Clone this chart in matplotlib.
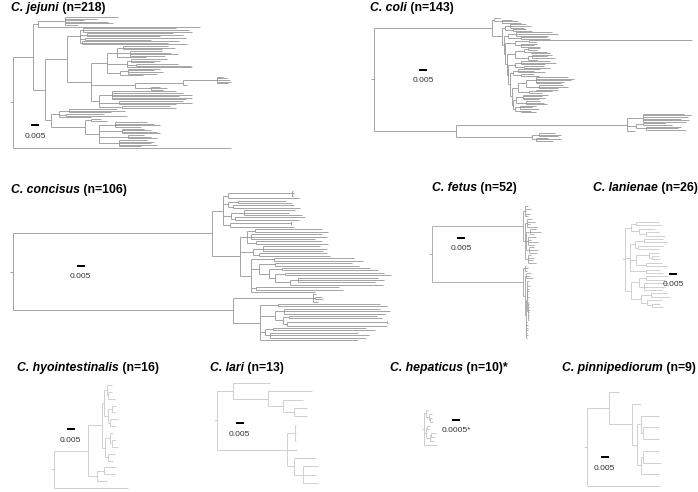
import matplotlib
matplotlib.use("Agg")
import matplotlib.pyplot as plt
from matplotlib.collections import LineCollection
from matplotlib.patches import Rectangle

plt.rcParams['font.family'] = ['Liberation Sans', 'DejaVu Sans']

# trees in newick form, branch lengths in units of 0.001 substitutions/site
JEJUNI = (
    "((((:33,:20,:12,:27,:30,:8):17,:101.5):3,"
    "((((:58,:66,:68):2,(:54,:60,:46):4,(:63,:41):3,(:61,:54,:66):1):8,"
    "((((:28,:32,:24):4,(:20,:26,:30,:22):8,:18):6,"
    "((:22,:18,:14):3,(:26,:34):6,:41):12,"
    "((:20,:16,:22,:18):5,:14):8):10,"
    "(((:4,:6,:8,:9,:7):21.5,:3):30,(:6,:10,:8):10):27,"
    "((:40,:44,:50,:42,:50,:46):8,(:40,:46,:36):12,(:30,:34):14):5):15):14,"
    "(((:30,:35,:26):6,(:24,:38):4,:20):5,"
    "((:6,:10):4,((:20,:24,:28,:16):10,(:14,:18,:22,:24):14,"
    "(:10,:14,:18):18,(:18,:22,:20,:24,:14):12):9):21):4):7.5):12.5,"
    ":136):2"
)
COLI = (
    "(((:4,(:6,:10,:12):5):1,"
    "(((:10,:13,:9):3,(:8,:12):5):2,"
    "(((:22,:26,:20):5,(:16,:18):8):3,"
    "(((:102,:4):9,(:10,:8,:12):4):6,"
    "((((:8,:6):2,(:10,:12):4):6,((:12,:9,:14):3,:6):8):5,"
    "(((:18,:22,:15):4,(:12,:16):6):4,"
    "(((:14,:10,:17):3,(:8,:11):5):2,"
    "((((:20,:24,:22,:18,:16):6,(:15,:18,:12):8):5,((:14,:10):4,:8):7):4,"
    "(((:16,:12,:14,:10):4,(:9,:11,:13):6):2,"
    "((:10,:8,:12):3,(:6,:9):4):1):1):1):1):1):1):1):1):6):74,"
    "(((:26,:30,:28,:24,:29,:27):10,((:14,:18):4,(:22,:20,:25):6):6,:5):107,"
    "((:10,:14,:12):4,(:8,:16,:11):2):48):51):2"
)
CONCISUS = (
    "(((((:0.5,:1,:0.8):40,:44):3,((:30,:34):6,(:38,:42):3):3,"
    "((:32,:28,:36):8,(:44,:40):2):5,((:1,:0.5):38,:40):4):7,"
    "(((:42,:46):5,(:44,:47,:40):3,(:41,:45):6):4,"
    "((:36,:40,:38):6,(:42,:44):4):8,"
    "((:50,:56):14,((:48,:52):10,((:55,:60):8,((:62,:66):6,"
    "((:50,:54,:48):5,:58):9):4):6):5,(:52,:54):3,:40):7):17.5):124.5,"
    "((:2,(:4,:5):1.5,:3):50,"
    "((:64,:68):11,((:60,:66,:63):6,((:55,:58):4,((:0.5,:0.8):62,:62):3):5):9,"
    "((:58,:64):5,(:55,:62,:60):3):3,:61):17):137.5):2"
)
FETUS = (
    "(((:2,:4,:1,:3,:2):1,((:3,:5,:2,:6):1.5,((:4,:7,:3):2,(:5,:2,:6,:4):1,"
    "(:3,:6,:5):1.5):1,(:2,:4,:3,:5):2):1):57,"
    "((:1,:2,:1.5):1,((:3,:2,:4):1,(((:1,:0.5,:1.5,:0.8,:1,:0.6,:1.2,:0.7):0.5,"
    "(:0.4,:0.9,:0.6,:1.1,:0.5,:0.8,:0.7,:0.6):0.8):0.5,"
    "(:0.5,:1,:0.7,:0.9,:0.6,:0.8,:0.5):0.4):0.6):1):57):2"
)
LANIENAE = (
    "(((:14,:16):3,(:10,(:8,:12):4):5):4,"
    "(((:12,:14):6,(:16,:13):2):3,((:6,(:4,:5):2):8,(:10,:13):6):4,(:9,:11):10):3,"
    "(((:14,:12):4,(:15,:13,:11):3):5,((:10,:12):6,(:9,(:5,:7):3):4):6):4):2"
)
HYOINTESTINALIS = (
    "(((((:3,(:2,:4):1):2,((:3,:2):2,(:5,:4):1):3):1,"
    "((:2,(:3,:4):1):3,(:4,:3):2):2):9,((:8,:7):4,:6):6):21,:46):2"
)
LARI = (
    "((:23,(:27.5,(:13,(:8,:8):7):9):22):10,"
    "((:0.6,:0.4,:0.5):5,:6,(:14,(:9,:8,:9):6):4):44):2"
)
HEPATICUS = (
    "((:0.15,(:0.2,(:0.1,:0.15):0.1):0.2):0.1,"
    "((:0.2,:0.1):0.05,((:0.3,:0.25):0.1,:0.3):0.2):0.15,:0.8):0.1"
)
PINNIPEDIORUM = "((:6,(:6,((:11,(:10,:10):1):3,((:10,:11):1,:11):3):3):14):14,:45.6):2"

SPECIES = ["C. jejuni", "C. coli", "C. concisus", "C. fetus", "C. lanienae",
           "C. hyointestinalis", "C. lari", "C. hepaticus", "C. pinnipediorum"]
COUNTS = [" (n=218)", " (n=143)", " (n=106)", " (n=52)", " (n=26)",
          " (n=16)", " (n=13)", " (n=10)*", " (n=9)"]
TREES = [JEJUNI, COLI, CONCISUS, FETUS, LANIENAE,
         HYOINTESTINALIS, LARI, HEPATICUS, PINNIPEDIORUM]
BAR_VALUES = [0.005, 0.005, 0.005, 0.005, 0.005, 0.005, 0.005, 0.0005, 0.005]
BAR_LABELS = ["0.005", "0.005", "0.005", "0.005", "0.005",
              "0.005", "0.005", "0.0005*", "0.005"]

# layout (pixels): root x, first leaf y, last leaf y
TREE_BOX = [(13, 17, 148), (374, 18, 141), (13, 191, 340), (432, 206, 338),
            (625, 222, 307), (54, 385, 488), (217, 383, 483), (424, 410, 445),
            (587, 392, 486)]
TITLE_POS = [(11, 8), (370, 8), (11, 190), (432, 188), (593, 188),
             (17, 368), (210, 368), (390, 368), (562, 368)]
BAR_POS = [(35, 125), (423, 70), (80.5, 266), (461, 238), (673, 274),
           (70.5, 429), (239.5, 423), (456, 420), (604.5, 457)]
COLORS = ['#8c8c8c', '#8c8c8c', '#8c8c8c', '#9a9a9a', '#c4c4c4',
          '#c4c4c4', '#c4c4c4', '#bdbdbd', '#c4c4c4']
BAR_PX = 8


def parse_newick(text):
    s = "".join(text.split())
    pos = 0

    def read():
        nonlocal pos
        kids = []
        if s[pos] == "(":
            pos += 1
            kids.append(read())
            while s[pos] == ",":
                pos += 1
                kids.append(read())
            pos += 1
        length = 0.0
        if pos < len(s) and s[pos] == ":":
            pos += 1
            start = pos
            while pos < len(s) and s[pos] not in ",);":
                pos += 1
            length = float(s[start:pos])
        return {"len": length, "kids": kids}

    return read()


def n_leaves(node):
    if not node["kids"]:
        return 1
    return sum(n_leaves(k) for k in node["kids"])


def draw_tree(ax, tree, x_root, y_top, y_bot, ppu, color):
    segs = []
    step = (y_bot - y_top) / (n_leaves(tree) - 1)
    next_leaf = [0]

    def place(node, x):
        if not node["kids"]:
            y = y_top + next_leaf[0] * step
            next_leaf[0] += 1
            return y
        ys = []
        for kid in node["kids"]:
            kx = x + kid["len"] * ppu
            ky = place(kid, kx)
            segs.append([(x, ky), (kx, ky)])
            ys.append(ky)
        segs.append([(x, ys[0]), (x, ys[-1])])
        return (ys[0] + ys[-1]) / 2

    y_root = place(tree, x_root)
    segs.append([(x_root - tree["len"] * ppu, y_root), (x_root, y_root)])
    ax.add_collection(LineCollection(segs, colors=color, linewidths=0.55))


fig = plt.figure(figsize=(6.98, 4.92), dpi=100)
ax = fig.add_axes([0, 0, 1, 1])
ax.set_xlim(0, 698)
ax.set_ylim(492, 0)
ax.axis('off')

for i in range(len(TREES)):
    tree = parse_newick(TREES[i])
    # pixels per 0.001 substitutions, from the scale bar
    ppu = BAR_PX / (BAR_VALUES[i] * 1000)
    xr, yt, yb = TREE_BOX[i]
    draw_tree(ax, tree, xr, yt, yb, ppu, COLORS[i])

    tx, ty = TITLE_POS[i]
    t1 = ax.text(tx, ty, SPECIES[i], fontsize=8.8, fontweight='bold',
                 fontstyle='italic', ha='left', va='center')
    ax.annotate(COUNTS[i], xy=(1, 0.5), xycoords=t1, fontsize=8.8,
                fontweight='bold', ha='left', va='center')

    bx, by = BAR_POS[i]
    blen = BAR_VALUES[i] * 1000 * ppu
    ax.add_patch(Rectangle((bx - blen / 2, by - 1.3), blen, 2.6,
                           facecolor='black', edgecolor='none'))
    ax.text(bx, by + 11, BAR_LABELS[i], fontsize=6, color='#333333',
            ha='center', va='center')

fig.savefig("out.png", dpi=100)
